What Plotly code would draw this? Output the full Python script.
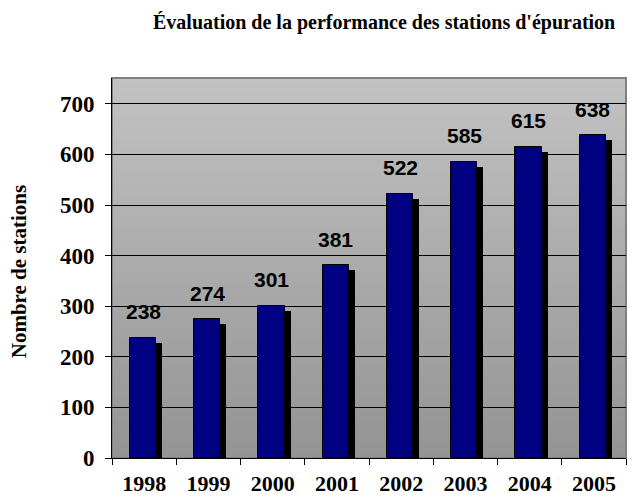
import plotly.graph_objects as go

years = ["1998", "1999", "2000", "2001", "2002", "2003", "2004", "2005"]
stations = [238, 274, 301, 381, 522, 585, 615, 638]
y_ticks = [0, 100, 200, 300, 400, 500, 600, 700]

title_text = "Évaluation de la performance des stations d'épuration"
y_title = "Nombre de stations"

SERIF = "Liberation Serif, Times New Roman, serif"
SANS = "Liberation Sans, Arial, sans-serif"

bar_w = 0.406
bar_off = -0.22
shadow_dx = 0.094
shadow_dy = 10

fig = go.Figure()
# shadow
fig.add_trace(go.Bar(
    x=years, y=[v - shadow_dy for v in stations],
    width=bar_w, offset=bar_off + shadow_dx,
    marker=dict(color="#000000", line=dict(width=0)),
    hoverinfo="skip", showlegend=False,
))
# main bars
fig.add_trace(go.Bar(
    x=years, y=stations,
    width=bar_w, offset=bar_off,
    marker=dict(color="#000080", line=dict(color="#000000", width=1)),
    showlegend=False,
))

shapes = []
n = 80
top_c = (194, 194, 194)
bot_c = (148, 148, 148)
for i in range(n):
    t = i / (n - 1)
    c = tuple(round(bot_c[k] + (top_c[k] - bot_c[k]) * t) for k in range(3))
    shapes.append(dict(
        type="rect", xref="x domain", yref="y domain",
        x0=0, x1=1, y0=i / n, y1=(i + 1) / n + 0.002,
        fillcolor="rgb(%d,%d,%d)" % c, line=dict(width=0), layer="below",
    ))
shapes.append(dict(
    type="rect", xref="x domain", yref="y domain", x0=0, x1=1, y0=0, y1=1,
    fillcolor="rgba(0,0,0,0)", line=dict(color="#808080", width=2), layer="below",
))

annotations = []
for i, v in enumerate(stations):
    annotations.append(dict(
        x=i, y=v, xref="x", yref="y", text="<b>%d</b>" % v, showarrow=False,
        yshift=26, xshift=-1, font=dict(family=SANS, size=21, color="#000000"),
        xanchor="center", yanchor="middle",
    ))
annotations.append(dict(
    x=0.53, y=1.145, xref="paper", yref="paper", text="<b>%s</b>" % title_text,
    showarrow=False, font=dict(family=SERIF, size=20, color="#000000"),
    xanchor="center", yanchor="middle",
))
annotations.append(dict(
    x=-0.182, y=0.49, xref="paper", yref="paper", text="<b>%s</b>" % y_title,
    showarrow=False, textangle=-90, font=dict(family=SERIF, size=21, color="#000000"),
    xanchor="center", yanchor="middle",
))

fig.update_layout(
    width=637, height=498,
    margin=dict(l=104, r=19, t=70, b=48, autoexpand=False),
    paper_bgcolor="white", plot_bgcolor="rgba(0,0,0,0)",
    barmode="overlay", bargap=0,
    shapes=shapes, annotations=annotations,
    xaxis=dict(
        type="category", range=[-0.5, 7.5], tickson="boundaries",
        tickvals=years, ticktext=["<b>%s</b>" % y for y in years],
        ticks="outside", ticklen=6, tickcolor="#000000", tickwidth=1,
        showline=True, linecolor="#000000", linewidth=1,
        showgrid=False, zeroline=False, automargin=False,
        tickfont=dict(family=SERIF, size=22, color="#000000"),
        ticklabelstandoff=6,
    ),
    yaxis=dict(
        range=[0, 751], tickvals=y_ticks, ticktext=["<b>%d</b>" % v for v in y_ticks],
        ticks="outside", ticklen=6, tickcolor="#000000", tickwidth=1,
        showline=True, linecolor="#000000", linewidth=1,
        showgrid=True, gridcolor="#000000", gridwidth=1, zeroline=False,
        automargin=False,
        tickfont=dict(family=SERIF, size=23, color="#000000"),
        ticklabelstandoff=6,
    ),
)

fig.write_html("out.html")
